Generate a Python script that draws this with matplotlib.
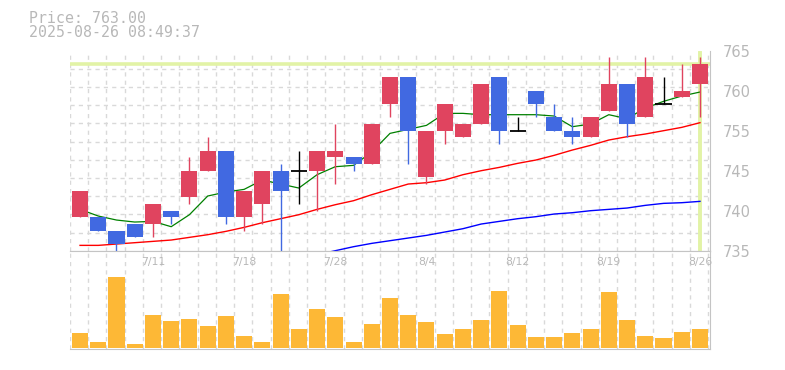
import matplotlib
matplotlib.use("Agg")
import matplotlib.pyplot as plt
import matplotlib.transforms as mtransforms
import numpy as np

# daily candles, 2025-07-07 .. 2025-08-26
dates = ["7/7", "7/8", "7/9", "7/10", "7/11", "7/14", "7/15", "7/16", "7/17", "7/18",
         "7/22", "7/23", "7/24", "7/25", "7/28", "7/29", "7/30", "7/31", "8/1", "8/4",
         "8/5", "8/6", "8/7", "8/8", "8/12", "8/13", "8/14", "8/15", "8/18", "8/19",
         "8/20", "8/21", "8/22", "8/25", "8/26"]
opens = [740, 740, 738, 739, 739, 741, 743, 747, 750, 740,
         742, 747, 747, 747, 749, 749, 748, 757, 761, 746,
         753, 752, 754, 761, 753, 759, 755, 753, 752, 756,
         760, 755, 757, 758, 760]
highs = [744, 740, 738, 739, 742, 741, 749, 752, 750, 744,
         747, 748, 750, 750, 754, 749, 754, 761, 761, 753,
         757, 754, 760, 761, 755, 759, 757, 755, 755, 764,
         760, 764, 761, 763, 764]
lows = [740, 738, 734, 737, 737, 739, 742, 747, 739, 738,
        739, 733, 742, 741, 745, 747, 748, 755, 748, 745,
        751, 752, 754, 751, 753, 755, 753, 751, 752, 756,
        752, 755, 757, 758, 755]
closes = [744, 738, 736, 737, 742, 740, 747, 750, 740, 744,
          747, 744, 747, 750, 750, 748, 754, 761, 753, 753,
          757, 754, 760, 753, 753, 757, 753, 752, 755, 760,
          754, 761, 757, 759, 763]
ma5 = [741.2, 740.2, 739.6, 739.3, 739.4, 738.6, 740.4, 743.2, 743.8, 744.2,
       745.6, 745.0, 744.4, 746.4, 747.6, 747.8, 749.8, 752.6, 753.2, 753.8,
       755.6, 755.6, 755.4, 755.4, 755.4, 755.4, 755.2, 753.6, 754.0, 755.4,
       754.8, 756.4, 757.4, 758.2, 758.8]
ma25 = [735.8, 735.8, 736.0, 736.2, 736.4, 736.6, 737.0, 737.4, 737.9, 738.5,
        739.2, 739.8, 740.4, 741.2, 741.9, 742.5, 743.4, 744.2, 745.0, 745.2,
        745.6, 746.4, 747.0, 747.5, 748.1, 748.6, 749.3, 750.1, 750.8, 751.6,
        752.1, 752.5, 753.0, 753.5, 754.2]
ma75 = [np.nan] * 12 + [733.8, 734.4, 735.0, 735.6, 736.1, 736.5, 736.9, 737.3,
                        737.8, 738.3, 739.0, 739.4, 739.8, 740.1, 740.5, 740.7,
                        741.0, 741.2, 741.4, 741.8, 742.1, 742.2, 742.4]
volumes = [153, 63, 713, 40, 330, 273, 293, 220, 320, 120,
           63, 540, 190, 390, 313, 63, 243, 500, 330, 263,
           140, 190, 280, 573, 230, 113, 113, 153, 190, 563,
           280, 120, 103, 163, 190]
price_now = 763.00
stamp = "2025-08-26 08:49:37"
ytick_pos = [765, 759, 753, 747, 741, 735]
ytick_txt = ["765", "760", "755", "745", "740", "735"]

UP = "#e0445f"
DOWN = "#4169e1"
GRID = "#d9d9d9"
EDGE = "#c4c4c4"
TXT = "#b8b8b8"
MARK = "#e2f3a6"

x = np.arange(len(dates))
o = np.array(opens); c = np.array(closes)
W, H = 785, 370
fig = plt.figure(figsize=(W / 100, H / 100), dpi=100)
ax = fig.add_axes([70 / W, 1 - 250.7 / H, 640 / W, 200 / H])
axv = fig.add_axes([70 / W, 1 - 349 / H, 640 / W, 98.3 / H])

for a in (ax, axv):
    a.set_xlim(-0.55, 34.55)
    a.set_xticks(np.arange(-0.55, 34.6, 1.0))
    a.tick_params(axis="x", length=0, labelbottom=False)
    a.grid(axis="x", color=GRID, linestyle=(0, (3, 3)), linewidth=1)
    for s in ("left", "top"):
        a.spines[s].set_visible(False)
    for s in ("right", "bottom"):
        a.spines[s].set_color(EDGE)
    a.set_axisbelow(True)
axv.spines["top"].set_visible(True)
axv.spines["top"].set_color(EDGE)

# price panel
ax.set_ylim(735, 765)
ax.set_yticks(np.linspace(735, 765, 12), minor=True)
ax.grid(axis="y", which="minor", color=GRID, linestyle=(0, (3, 3)), linewidth=1)
ax.set_yticks(ytick_pos)
ax.set_yticklabels(ytick_txt)
ax.yaxis.tick_right()
ax.tick_params(axis="y", which="both", length=0, pad=9, labelsize=10.5, labelcolor=TXT)
for lbl in ax.get_yticklabels():
    lbl.set_verticalalignment("center_baseline")

ax.axhline(price_now, color=MARK, linewidth=2.6, zorder=1)
ax.axvline(x[-1], ymin=0.01, ymax=0.99, color=MARK, linewidth=2.8, zorder=1)

ax.plot(x, ma75, color="#0000ff", linewidth=1.0, zorder=2)
ax.plot(x, ma25, color="#ff0000", linewidth=1.0, zorder=2)
ax.plot(x, ma5, color="#008000", linewidth=0.9, zorder=2)

colors = np.where(c > o, UP, np.where(c < o, DOWN, "black"))
ax.vlines(x, lows, highs, colors=colors, linewidth=1.0, zorder=3)
body = c != o
ax.bar(x[body], np.abs(c - o)[body], bottom=np.minimum(o, c)[body], width=0.88,
       color=colors[body], linewidth=0, zorder=4)
ax.hlines(c[~body], x[~body] - 0.44, x[~body] + 0.44, colors="black", linewidth=1.3, zorder=4)

# volume panel
axv.set_ylim(-10, 973)
axv.set_yticks([])
axv.bar(x, volumes, width=0.88, color="#fdb836", linewidth=0, zorder=3)
trans = mtransforms.blended_transform_factory(axv.transData, axv.transAxes)
for i in range(4, len(dates), 5):
    axv.text(x[i], 0.883, dates[i], transform=trans, ha="center", va="center",
             fontsize=7.8, color=TXT, zorder=5)

fig.text(29.3 / W, 1 - 22.7 / H, f"Price: {price_now:.2f}", family="DejaVu Sans Mono",
         fontsize=10.7, color=TXT, va="baseline")
fig.text(29.3 / W, 1 - 37.3 / H, stamp, family="DejaVu Sans Mono",
         fontsize=10.7, color=TXT, va="baseline")

fig.savefig("out.png", dpi=100)
